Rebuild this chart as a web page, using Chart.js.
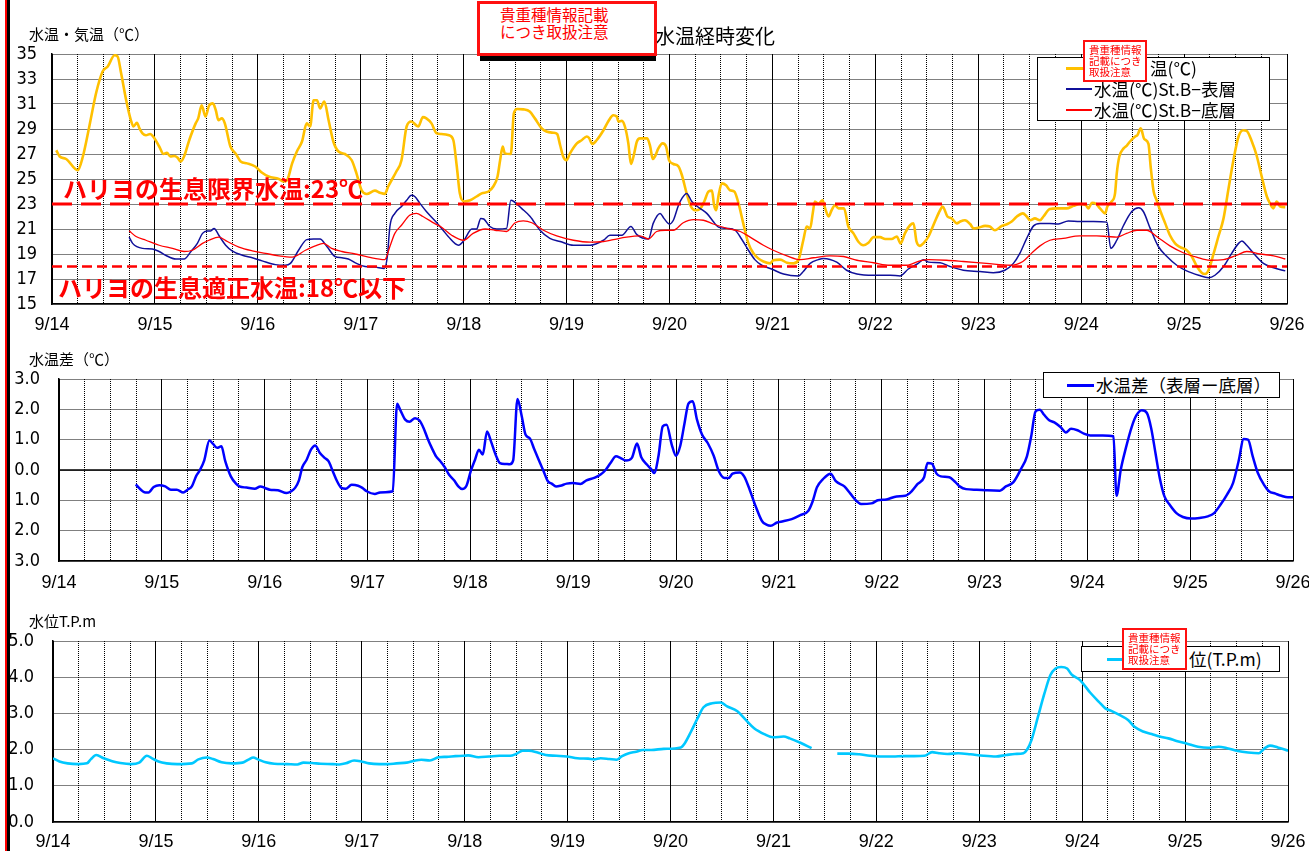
<!DOCTYPE html>
<html><head><meta charset="utf-8">
<script src="https://cdn.jsdelivr.net/npm/chart.js@4.4.0/dist/chart.umd.min.js"></script>
<style>
html,body{margin:0;padding:0;}
body{width:1309px;height:851px;overflow:hidden;background:#fff;position:relative;font-family:'Noto Sans CJK JP',sans-serif;color:#000;}
canvas{position:absolute;left:0;}
.a{position:absolute;white-space:nowrap;}
.lbl{font-size:15px;line-height:20px;height:20px;}
.box{position:absolute;background:#fff;border:1px solid #000;box-sizing:border-box;}
.seg{position:absolute;}
.lt{position:absolute;white-space:nowrap;font-size:17.5px;line-height:22px;height:22px;}
.red{color:#ff0000;}
.rbox{position:absolute;background:#fff;border:2.5px solid #ff1010;box-sizing:border-box;}
.rt{position:absolute;white-space:nowrap;color:#ff0000;font-size:10.5px;line-height:11px;}
.th{position:absolute;white-space:nowrap;color:#ff0000;font-weight:bold;font-size:24px;line-height:30px;height:30px;}
</style></head><body>
<canvas id="c1" width="1330" height="340" style="top:0px"></canvas>
<canvas id="c2" width="1330" height="260" style="top:340px"></canvas>
<canvas id="c3" width="1330" height="262" style="top:600px"></canvas>

<div class="a" style="left:5px;top:0;width:2px;height:851px;background:#ff0000"></div>
<div class="a" style="left:7px;top:0;width:3px;height:851px;background:#000"></div>

<div class="a lbl" style="left:29px;top:24px">水温・気温（℃）</div>
<div class="a lbl" style="left:29px;top:349px">水温差（℃）</div>
<div class="a lbl" style="left:29px;top:611px">水位T.P.m</div>

<div class="a" style="left:655px;top:22px;font-size:20px;line-height:28px;">水温経時変化</div>

<div class="th" style="left:63px;top:173px">ハリヨの生息限界水温:23℃</div>
<div class="th" style="left:58px;top:272px">ハリヨの生息適正水温:18℃以下</div>

<!-- legend 1 -->
<div class="box" style="left:1037px;top:57px;width:233px;height:64px"></div>
<div class="seg" style="left:1066px;top:67px;width:26px;height:2.5px;background:#ffc000"></div>
<div class="lt" style="left:1150px;top:57px">温(℃)</div>
<div class="seg" style="left:1066px;top:88px;width:26px;height:1.5px;background:#10109a"></div>
<div class="lt" style="left:1094px;top:78px">水温(℃)St.B−表層</div>
<div class="seg" style="left:1066px;top:109px;width:26px;height:1.5px;background:#ff0000"></div>
<div class="lt" style="left:1094px;top:99px">水温(℃)St.B−底層</div>

<!-- legend 2 -->
<div class="box" style="left:1043px;top:372px;width:237px;height:26px"></div>
<div class="seg" style="left:1067px;top:384px;width:27px;height:2.5px;background:#0000ff"></div>
<div class="lt" style="left:1096px;top:374px">水温差（表層ー底層）</div>

<!-- legend 3 -->
<div class="box" style="left:1081px;top:646px;width:199px;height:26px"></div>
<div class="seg" style="left:1107px;top:658px;width:20px;height:2.5px;background:#00c8ff"></div>
<div class="lt" style="left:1189px;top:648px">位(T.P.m)</div>

<!-- notice boxes -->
<div class="a" style="left:480px;top:55px;width:176px;height:6px;background:#000"></div>
<div class="rbox" style="left:477px;top:1px;width:180px;height:55px;border-width:3px"></div>
<div class="a red" style="left:500px;top:5px;font-size:15.5px;line-height:18px">貴重種情報記載</div>
<div class="a red" style="left:500px;top:22px;font-size:15.5px;line-height:18px">につき取扱注意</div>

<div class="rbox" style="left:1083px;top:40px;width:64px;height:42px"></div>
<div class="rt" style="left:1089px;top:44px">貴重種情報</div>
<div class="rt" style="left:1089px;top:55px">記載につき</div>
<div class="rt" style="left:1089px;top:66px">取扱注意</div>

<div class="rbox" style="left:1122px;top:628px;width:65px;height:42px"></div>
<div class="rt" style="left:1128px;top:632px">貴重種情報</div>
<div class="rt" style="left:1128px;top:643px">記載につき</div>
<div class="rt" style="left:1128px;top:654px">取扱注意</div>

<script>
// ---------- data ----------
const dayLabels = ['9/14','9/15','9/16','9/17','9/18','9/19','9/20','9/21','9/22','9/23','9/24','9/25','9/26'];
const hourRange = [0, 288];   // 9/14 00:00 .. 9/26 00:00, hours
const tempTicks = [15, 35, 2];
const diffTicks = [-3, 3, 1];
const levelTicks = [0, 5, 1];
const limitTemp = 23;
const optimalTemp = 18;

// [hour, value]
const airTemp = [[1,27.3],[1.8,26.8],[3.3,26.6],[6,25.7],[7.2,26.8],[8.7,29.2],[10.3,31.9],[11.8,33.6],[13,34],[14.6,34.9],[15.3,34.8],[16.1,33.5],[17.3,31.3],[18.4,29.7],[19,29.2],[19.8,29.5],[20.4,29.05],[21.1,28.65],[21.9,28.5],[22.9,28.6],[23.8,28.3],[25,27.6],[26,27.0],[26.8,27.1],[27.6,26.8],[28.5,26.84],[29.3,26.7],[30,26.4],[30.8,26.8],[32,28.1],[33.5,29.45],[34.1,29.85],[34.9,30.9],[35.8,30],[36.6,30.85],[37.5,31.05],[38.2,30.5],[38.8,29.7],[39.6,29.85],[40.3,29.45],[41.6,27.6],[42.8,27.05],[44,26.4],[45.5,26.25],[47.4,26],[49,25.5],[50.5,25.2],[52.9,25],[54,24.8],[54.8,24.9],[56,26.25],[57.1,27.2],[58.3,28],[59.4,29.45],[60.2,29.2],[61,31.3],[61.8,31.3],[62.5,30.65],[63.5,31.2],[64.5,29.7],[65.6,28],[66.8,27.2],[68.3,27],[69.9,26.5],[71,25.45],[72.2,24.1],[73.4,23.8],[75.3,24.07],[76.5,23.9],[77.6,23.8],[78.4,24.4],[80.3,25.6],[81.5,26.5],[82.7,29.2],[83.8,29.6],[85.4,29.2],[86.5,29.95],[87.3,29.85],[88.5,29.45],[89.7,28.65],[90.8,28.6],[92.6,28.5],[93.6,28.1],[94.4,26],[95.1,23.85],[96.1,23.2],[97.5,23.3],[99,23.6],[100.2,23.85],[101.8,24],[102.9,24.4],[103.9,25.2],[104.5,26.5],[105.1,27.6],[105.6,27.05],[107,27],[107.7,30.25],[108.5,30.6],[109.9,30.57],[111.4,30.4],[112.6,29.85],[114.2,29.05],[115.3,28.8],[116.9,28.7],[117.8,28.6],[118.5,27.7],[119.2,26.8],[120,26.5],[120.8,27.05],[122.4,27.85],[123.5,28.1],[124.7,28.4],[125.2,28.3],[126,27.8],[127,28.1],[128.6,28.9],[129.7,29.6],[130.9,30.1],[131.7,30],[132.1,29.6],[132.9,29.65],[133.6,29.2],[134.4,27.85],[135,26.2],[135.6,26.8],[136.4,28],[137.1,28.25],[138.8,28.25],[139.5,27.6],[140.1,26.6],[140.6,26.8],[141.4,27.45],[142.4,27.85],[143.2,27.6],[143.9,26.5],[144.9,26.2],[146.1,26],[146.9,25.3],[148,23.85],[149,22.8],[150,22.5],[151.1,22.6],[152.1,23.2],[153.1,24],[153.9,24.07],[154.4,22.9],[154.9,22.5],[155.4,23.6],[156.2,24.65],[157.2,24.5],[158.1,24.1],[159.1,24],[160.1,23.05],[161.2,21.45],[162.4,19.85],[163.6,19.05],[164.7,18.65],[165.9,18.4],[167.5,18.25],[168.2,18.5],[169.8,18.55],[171.4,18.3],[172.9,18.25],[174.1,18.55],[175.2,20.1],[176,21.2],[176.8,21.05],[177.4,22.25],[177.9,23.2],[178.7,23],[179.7,23.3],[180.3,22.65],[181.1,22],[181.8,22.5],[182.6,22.9],[183.4,22.65],[184.7,22.65],[185.7,21.2],[186.9,20.65],[188,20],[189.2,19.7],[190.4,19.9],[191.6,20.35],[193.1,20.35],[194.3,20.2],[195.8,20.2],[197,20.4],[197.9,19.85],[198.9,20.65],[200.1,21.3],[200.9,21.45],[201.6,20],[202.4,19.65],[203.2,19.85],[204.4,20.4],[205.9,21.6],[207.1,22.5],[207.7,22.8],[208.8,22],[209.8,21.85],[211,21.45],[211.8,21.6],[212.9,21.7],[214.1,21.4],[214.9,21.05],[216,21.1],[217.6,21.25],[218.7,21.2],[219.9,20.9],[221.5,21.25],[222.8,21.4],[223.8,21.6],[225,22],[226.4,22.25],[227.3,22],[228.1,21.7],[229.2,21.85],[230.4,21.7],[231.2,22],[232.7,22.6],[234.3,22.65],[236.6,22.65],[238.2,22.85],[239.7,23],[241.1,22.9],[241.7,22.65],[242.5,23.1],[243.5,23],[244.4,22.65],[245.6,22.25],[246.1,22.8],[247.1,23.2],[247.9,23.85],[248.3,25.45],[248.9,26.8],[249.9,27.45],[250.6,27.65],[251.4,28],[252.6,28.4],[253.1,28.5],[253.9,29.05],[254.7,28.2],[255.7,27.8],[256.2,26],[256.9,24],[257.6,23.3],[258.4,22.5],[259.6,21.45],[260.7,20.5],[261.9,19.85],[263.1,19.55],[264.6,19.3],[265.8,18.8],[267,18],[268.1,17.5],[268.9,17.4],[269.7,17.7],[270.9,19.05],[272,20.4],[273.2,21.85],[274.3,24.1],[275.5,26.5],[276.7,28.4],[277.8,28.9],[278.6,28.85],[279.8,28],[280.9,26.9],[282.1,25.2],[283.3,23.6],[284.1,23],[284.8,22.65],[285.6,23.2],[286.4,22.8],[287.6,22.75]];

const surfaceTemp = [[18,20.35],[18.8,19.85],[21.1,19.45],[23.4,19.4],[25,19.2],[26.5,18.9],[28.9,18.6],[30.8,18.6],[32.4,19.2],[33.9,19.85],[35.1,20.65],[36.2,20.85],[37,20.85],[37.8,21.05],[38.9,20.5],[40.5,19.7],[42,19.25],[44.4,18.9],[46.7,18.7],[49,18.45],[52.1,18.15],[54.4,18.1],[55.6,18.25],[57.5,19.3],[59.4,20.15],[61,20.2],[62.5,20.2],[64.1,19.6],[66,18.8],[67.6,18.7],[69.1,18.6],[71,18.25],[73,18],[75.3,17.95],[77.5,17.85],[78.2,18.8],[78.8,21.2],[79.95,22.25],[81.5,22.8],[82.7,23.3],[83.8,23.7],[84.6,23.6],[85.8,23.05],[87.3,22.4],[89.2,21.7],[91.2,20.9],[92.4,20.4],[94.8,19.7],[96.1,20.1],[97.9,21],[99,21],[100,21.85],[100.7,21.8],[102.1,21.2],[103.7,21],[106,21.05],[107,23.3],[107.7,23.2],[109.5,22.65],[111.5,22],[113.8,20.9],[116.1,20.25],[118.5,20],[121.6,19.7],[125.5,19.7],[128.6,20.1],[130.1,20.5],[132.9,20.5],[135,21.2],[136.4,20.55],[139.1,20.2],[140.2,21.45],[141.8,22.25],[142.7,21.85],[144,21.4],[144.9,21.7],[146.1,22.9],[146.9,23.45],[148,23.85],[149.2,23.2],[151.1,22.65],[152.7,22.25],[154.2,21.6],[155.4,21.15],[157.4,21.05],[159.3,20.9],[160.8,20.2],[162.4,19.3],[163.9,18.55],[165.5,18.1],[167.8,17.8],[170.6,17.4],[174.1,17.25],[175.2,17.6],[176.8,18.25],[178.7,18.55],[179.9,18.65],[183,18.35],[185.3,17.7],[187.7,17.4],[191.6,17.3],[195.5,17.3],[197.8,17.25],[199.7,17.8],[202,18.25],[203.2,18.55],[204.4,18.35],[207.1,18.3],[209.4,18],[212.5,17.7],[216.4,17.6],[219.5,17.5],[222.2,17.7],[224.2,18.25],[225.7,19.05],[227.3,20.25],[228.9,21.25],[230.4,21.45],[232.7,21.45],[234.7,21.4],[237,21.65],[239.7,21.6],[242.9,21.6],[246,21.55],[246.9,19.45],[248.3,20.1],[249.9,21.3],[251.8,22.4],[253.4,22.7],[254.5,22.4],[256.1,21.05],[258,19.6],[260,18.8],[262.3,18.1],[264.6,17.65],[267.4,17.3],[269.7,17.1],[271.2,17.3],[273.2,18],[275.1,19.05],[276.7,19.85],[277.5,20.05],[278.6,19.7],[280.6,18.9],[282.5,18.25],[284.9,17.9],[287.6,17.65]];

const bottomTemp = [[18,20.85],[19.6,20.4],[21.9,20.1],[25,19.7],[28.1,19.45],[30.8,19.2],[32.7,19.3],[35.1,19.85],[36.6,20.1],[38.9,20.35],[40.9,20],[43.6,19.55],[46.7,19.25],[49.8,19.05],[52.9,18.85],[56,18.75],[59.1,19.3],[61.4,19.65],[63.3,19.85],[65.2,19.45],[67.6,19.2],[70.7,19],[73.8,18.75],[77.6,18.55],[78.8,19.6],[79.95,20.65],[81.5,21.3],[83.4,22.1],[85,22.25],[86.5,22],[89.2,21.45],[91,21.1],[93.2,20.5],[96,20.1],[98.2,20.65],[101,21],[103.3,20.9],[106,20.8],[108,21.5],[109.9,21.65],[111.9,21.5],[114.6,20.9],[117.7,20.45],[121.6,20.1],[125.5,19.95],[128.6,20],[130.9,20.15],[134,20.35],[137.1,20.45],[139.1,20.2],[141,20.8],[143,20.9],[144.9,20.9],[147.2,21.5],[149.6,21.75],[151.9,21.7],[154.2,21.4],[157.4,21.05],[160.5,20.8],[162.8,20.35],[165.9,19.7],[168.2,19.3],[171.4,18.85],[174.5,18.55],[177.6,18.7],[181.4,18.85],[184.6,18.8],[187.7,18.5],[191.6,18.3],[195.4,18.1],[199.3,18.1],[202.4,18.45],[204.4,18.55],[208.6,18.5],[212.5,18.4],[217.9,18.25],[223.4,18.1],[226.4,18.4],[228.4,19.05],[230.4,19.65],[232.7,20.1],[235.8,20.25],[239.7,20.45],[243.6,20.45],[246.1,20.4],[248.3,20.35],[250.6,20.65],[253,20.9],[255.3,20.9],[257.6,20.4],[260.7,19.65],[263.8,19.1],[266.9,18.75],[270,18.5],[273.2,18.55],[276.3,18.9],[278.6,19.2],[281.7,19],[284.9,18.85],[287.6,18.6]];

const tempDiff = [[17.9,-0.48],[20.2,-0.74],[20.9,-0.74],[22.1,-0.56],[23.4,-0.5],[24.8,-0.54],[26.1,-0.65],[27.5,-0.65],[29,-0.74],[30,-0.65],[31,-0.54],[32,-0.2],[32.9,0],[33.9,0.32],[35.1,0.97],[35.9,0.87],[36.9,0.73],[37.9,0.78],[38.8,0.29],[40.1,-0.21],[41.3,-0.45],[42.1,-0.54],[43.8,-0.58],[45.7,-0.62],[47,-0.54],[48.2,-0.6],[49.2,-0.65],[51.1,-0.67],[53.1,-0.76],[54.1,-0.71],[55.1,-0.59],[56,-0.34],[56.8,0.1],[57.8,0.34],[58.8,0.67],[59.8,0.81],[60.8,0.58],[62,0.4],[62.9,0.29],[63.9,-0.04],[64.9,-0.37],[65.9,-0.59],[66.9,-0.62],[68.3,-0.49],[69.8,-0.52],[70.8,-0.59],[71.8,-0.7],[73.7,-0.79],[74.9,-0.74],[76.2,-0.73],[77.9,-0.7],[78.9,2.18],[79.6,1.99],[80.8,1.66],[81.8,1.59],[83.1,1.71],[84.1,1.64],[85.1,1.38],[86,1.05],[87,0.73],[88,0.45],[89,0.29],[90,0.1],[91,-0.15],[92.2,-0.34],[93.2,-0.54],[94.1,-0.63],[95.1,-0.52],[96.1,-0.04],[97.1,0.34],[98,0.67],[98.9,0.51],[99.9,1.27],[100.8,0.95],[102,0.47],[102.9,0.23],[104.2,0.2],[105.2,0.19],[106,0.32],[107,2.34],[108,1.77],[108.9,1.16],[109.9,1.04],[110.9,0.69],[112.1,0.29],[113.1,-0.04],[114.1,-0.37],[115,-0.45],[116,-0.54],[117,-0.52],[118.5,-0.45],[120,-0.43],[121.7,-0.46],[123.1,-0.34],[124.9,-0.26],[126.4,-0.15],[127.6,0.01],[128.8,0.25],[130,0.45],[131,0.4],[132.3,0.31],[133.7,0.4],[134.9,0.87],[135.9,0.42],[137.2,0.18],[138.2,0.03],[138.9,-0.1],[139.9,0.45],[140.9,1.44],[141.8,1.49],[143,0.84],[144,0.47],[145,0.8],[146,1.55],[146.9,2.19],[147.9,2.27],[148.9,1.66],[150.1,1.16],[151.4,0.89],[152.8,0.47],[154,-0.04],[155.3,-0.26],[156.3,-0.26],[157.2,-0.12],[158.9,-0.08],[159.9,-0.21],[161.2,-0.65],[162.6,-1.2],[164.1,-1.69],[165.1,-1.8],[166.1,-1.84],[167.6,-1.73],[169,-1.69],[171,-1.62],[173,-1.49],[174.9,-1.34],[175.9,-1.03],[176.9,-0.57],[178.3,-0.3],[180.1,-0.12],[181.3,-0.37],[183.3,-0.54],[184.7,-0.78],[186.2,-1.03],[187.2,-1.12],[189.6,-1.1],[191.1,-1],[193.1,-0.97],[195.5,-0.87],[197.5,-0.85],[199,-0.7],[200.4,-0.46],[201.9,-0.24],[202.7,0.23],[203.7,0.21],[204.8,-0.12],[205.8,-0.21],[207.8,-0.24],[209,-0.37],[210.2,-0.54],[211.7,-0.63],[214.2,-0.65],[216.6,-0.67],[219.6,-0.68],[221,-0.54],[222.7,-0.41],[224.5,0.03],[225.9,0.45],[226.9,1.11],[227.9,1.93],[228.9,1.99],[229.9,1.82],[231.1,1.64],[232.3,1.57],[233.8,1.41],[235,1.24],[236.2,1.36],[237.7,1.31],[239.2,1.2],[240.7,1.14],[243.6,1.14],[246.1,1.11],[246.8,-0.85],[247.8,0.01],[249,0.73],[250.4,1.44],[251.4,1.79],[252.7,1.97],[253.9,1.88],[254.9,1.38],[255.9,0.56],[256.9,-0.26],[258,-0.87],[259.3,-1.16],[260.8,-1.42],[262.3,-1.55],[264.2,-1.6],[266.2,-1.58],[268.1,-1.53],[269.6,-1.42],[271.1,-1.14],[272.6,-0.81],[274,-0.43],[275.3,0.29],[276.5,1.02],[277.5,1],[278.6,0.45],[279.8,-0.1],[281.2,-0.48],[282.4,-0.7],[283.9,-0.78],[285.3,-0.85],[286.8,-0.9],[288,-0.9]];

const waterLevel = [[0,1.76],[1.5,1.67],[3.4,1.62],[5.9,1.6],[7.9,1.62],[8.8,1.73],[10.1,1.85],[11.8,1.76],[13.8,1.68],[15.7,1.63],[18.2,1.6],[20.1,1.64],[21.9,1.83],[23.1,1.76],[24.6,1.67],[26.5,1.62],[29,1.6],[32.4,1.62],[33.9,1.73],[35.9,1.78],[37.3,1.74],[39.3,1.65],[41.7,1.62],[44.2,1.64],[45.7,1.73],[46.7,1.78],[47.8,1.73],[49.6,1.65],[51.6,1.61],[54.5,1.6],[57,1.59],[58.4,1.64],[60.4,1.63],[62.4,1.61],[65.3,1.6],[66.8,1.59],[68.3,1.62],[70.2,1.7],[71.7,1.68],[73.7,1.62],[76.1,1.6],[78.1,1.6],[80.1,1.62],[82.5,1.64],[84.5,1.7],[85.9,1.72],[87.9,1.7],[89.9,1.79],[91.8,1.8],[93.8,1.82],[95.8,1.83],[96.8,1.84],[99.2,1.79],[101.7,1.81],[104.1,1.83],[106.6,1.83],[108,1.88],[109.5,1.97],[111,1.97],[113,1.92],[114.9,1.85],[117.4,1.83],[119.8,1.81],[122.3,1.76],[124.8,1.75],[126.2,1.73],[127.7,1.76],[129.7,1.74],[131.4,1.72],[132.6,1.81],[134.3,1.9],[136,1.94],[137.5,1.99],[139.5,1.99],[142.4,2.02],[146.4,2.06],[147.3,2.17],[148.8,2.5],[150.3,2.86],[151.7,3.17],[153.7,3.28],[155.7,3.3],[157.1,3.2],[159.6,3.06],[161.5,2.83],[163.5,2.59],[166,2.42],[167.9,2.34],[170.4,2.36],[171.8,2.31],[174.3,2.19],[176.9,2.04],[180,null],[182.9,1.89],[185.6,1.89],[188,1.87],[190.5,1.83],[192.9,1.81],[195.9,1.81],[198.3,1.82],[200.8,1.82],[203.2,1.83],[205,1.93],[206.6,1.9],[208.6,1.88],[211.1,1.9],[214,1.87],[217,1.83],[219.9,1.81],[222.3,1.85],[224.3,1.88],[226.3,1.9],[227.2,2.01],[228.2,2.27],[229.7,2.91],[231.2,3.55],[232.6,4.06],[233.8,4.24],[235.1,4.28],[236.5,4.24],[237.5,4.08],[239.5,3.92],[241.9,3.57],[243.9,3.32],[245.4,3.14],[246.8,3.07],[248.8,2.95],[250.7,2.82],[252.2,2.63],[254.2,2.5],[256.2,2.43],[258.1,2.36],[260.1,2.31],[262,2.24],[264.5,2.16],[267,2.08],[269.4,2.05],[271.8,2.08],[273.8,2.04],[276.3,1.96],[278.7,1.92],[281.2,1.9],[282.6,2.04],[283.8,2.11],[285.6,2.06],[288,1.97]];

// ---------- charts ----------
const X_FONT = {family:"'Liberation Sans', Arial, sans-serif", size:18};
const Y_FONT = {family:"'Liberation Sans Narrow','DejaVu Sans Condensed','Liberation Sans', sans-serif", size:18};

function buildOptions(o){
  return {
    responsive:false, animation:false, events:[],
    layout:{padding:{left:0, top:o.top, right:o.right, bottom:0}},
    plugins:{legend:{display:false}, tooltip:{enabled:false}, title:{display:false}},
    scales:{
      x:{type:'linear', position:'bottom', min:hourRange[0], max:hourRange[1],
        ticks:{stepSize:24, autoSkip:false, maxRotation:0, minRotation:0, maxTicksLimit:100, padding:o.xPad, color:'#000', font:X_FONT,
          callback:v=>{const i=Math.round(v/24); return dayLabels[i]!==undefined?dayLabels[i]:'';}},
        grid:{color:'#000', lineWidth:1, drawTicks:false},
        border:{display:true, color:'#000', width:1.5},
        afterFit:s=>{s.height=o.xH;}},
      x2:{type:'linear', position:'top', min:hourRange[0], max:hourRange[1],
        ticks:{display:false, stepSize:6, autoSkip:false, maxTicksLimit:100},
        grid:{color:'#000', lineWidth:1, drawTicks:false},
        border:{display:false, dash:[1,1]},
        afterFit:s=>{s.height=0;}},
      y:{type:'linear', position:'left', min:o.yt[0], max:o.yt[1],
        ticks:{stepSize:o.yt[2], padding:o.yPad, color:'#000', font:Y_FONT, callback:o.yFmt},
        grid:{color:'#000', lineWidth:1, drawTicks:false},
        border:{display:true, color:'#000', width:1.5, dash:[1,1]},
        afterFit:s=>{s.width=o.yW;}}
    }
  };
}
function line(data, color, width, extra){
  return Object.assign({data, borderColor:color, backgroundColor:color, borderWidth:width, pointRadius:0, fill:false,
    cubicInterpolationMode:'monotone', spanGaps:false}, extra||{});
}

new Chart(document.getElementById('c1'), {
  type:'line',
  data:{datasets:[
    line([[hourRange[0],limitTemp],[hourRange[1],limitTemp]], '#ff0000', 3, {borderDash:[20,9], cubicInterpolationMode:'default', tension:0}),
    line([[hourRange[0],optimalTemp],[hourRange[1],optimalTemp]], '#ff0000', 2.5, {borderDash:[10,5], cubicInterpolationMode:'default', tension:0}),
    line(bottomTemp, '#ff0000', 1.3),
    line(surfaceTemp, '#10109a', 1.5),
    line(airTemp, '#ffc000', 2.6)
  ]},
  options: buildOptions({top:54, right:1330-1287, xH:340-304, xPad:10, yW:52, yPad:15, yt:tempTicks, yFmt:v=>String(v)})
});

new Chart(document.getElementById('c2'), {
  type:'line',
  data:{datasets:[
    line(tempDiff, '#0000ff', 2.5),
    line([[hourRange[0],0],[hourRange[1],0]], '#000', 1.5, {cubicInterpolationMode:'default', tension:0})
  ]},
  options: buildOptions({top:379-340, right:1330-1293, xH:260-(561-340), xPad:11, yW:59, yPad:19, yt:diffTicks, yFmt:v=>Math.abs(v).toFixed(1)})
});

new Chart(document.getElementById('c3'), {
  type:'line',
  data:{datasets:[
    line(waterLevel, '#00c8ff', 2.6)
  ]},
  options: buildOptions({top:641-600, right:1330-1288, xH:262-(822-600), xPad:9.5, yW:53, yPad:19, yt:levelTicks, yFmt:v=>v.toFixed(1)})
});
</script>
</body></html>
